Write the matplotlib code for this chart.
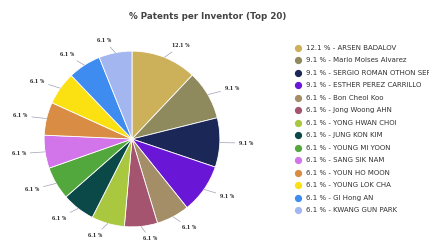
import matplotlib
matplotlib.use("Agg")
import matplotlib.pyplot as plt
from matplotlib.lines import Line2D
import numpy as np

names = ["ARSEN BADALOV", "Mario Moises Alvarez", "SERGIO ROMAN OTHON SERNA",
         "ESTHER PEREZ CARRILLO", "Bon Cheol Koo", "Jong Woong AHN",
         "YONG HWAN CHOI", "JUNG KON KIM", "YOUNG MI YOON", "SANG SIK NAM",
         "YOUN HO MOON", "YOUNG LOK CHA", "GI Hong AN", "KWANG GUN PARK"]
shares = [12.1, 9.1, 9.1, 9.1, 6.1, 6.1, 6.1, 6.1, 6.1, 6.1, 6.1, 6.1, 6.1, 6.1]
colors = ["#cdb15a", "#8f8a5e", "#1b2857", "#6a16d6", "#a48e68", "#a4546f",
          "#a9c840", "#0b4848", "#52a83c", "#d274ea", "#d98c44", "#fbe012",
          "#3f8cf0", "#a3b6f0"]

fig = plt.figure(figsize=(4.29, 2.47), dpi=100)
fig.text(0.485, 0.935, "% Patents per Inventor (Top 20)", ha="center", va="center",
         fontsize=6.3, fontweight="bold", color="#444444")

ax = fig.add_axes([16 / 429, 4 / 247, 232 / 429, 208 / 247])
wedges, _ = ax.pie(shares, colors=colors, startangle=90, counterclock=False,
                   wedgeprops=dict(edgecolor="white", linewidth=0.6))
ax.set_xlim(-1.32, 1.32)
ax.set_ylim(-1.18, 1.18)

for w, s in zip(wedges, shares):
    ang = np.deg2rad((w.theta1 + w.theta2) / 2)
    x, y = np.cos(ang), np.sin(ang)
    ax.annotate(f"{s} %", xy=(1.0 * x, 1.0 * y), xytext=(1.22 * x, 1.14 * y),
                ha="left" if x > 0.05 else ("right" if x < -0.05 else "center"),
                va="center", fontsize=3.4, fontweight="bold",
                family="DejaVu Serif", color="#222222",
                arrowprops=dict(arrowstyle="-", color="#a0a0b8", lw=0.5,
                                shrinkA=1, shrinkB=0))

y0 = 1 - 48 / 247
dy = 12.46 / 247
for i, (n, s, c) in enumerate(zip(names, shares, colors)):
    y = y0 - i * dy
    fig.add_artist(Line2D([298 / 429], [y], marker="o", markersize=4.2,
                          color=c, linestyle="none", transform=fig.transFigure))
    fig.text(306 / 429, y, f"{s} % - {n}", ha="left", va="center",
             fontsize=5.0, color="#333333")

fig.savefig("out.png", dpi=100)
